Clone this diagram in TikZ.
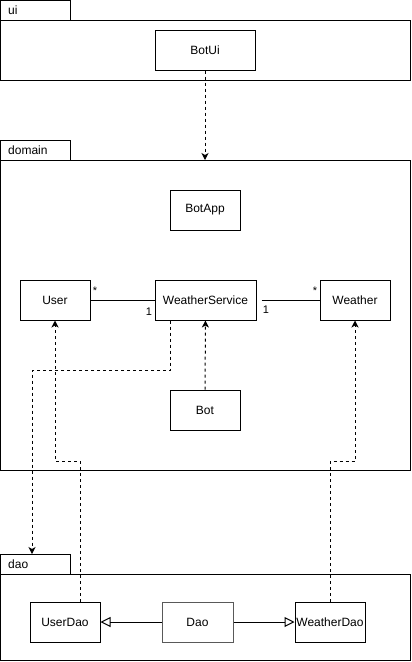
\documentclass[tikz,border=0pt]{standalone}
\usepackage{fontspec}
\setmainfont{Liberation Sans}
\usetikzlibrary{arrows.meta}
\tikzset{
  cls/.style={draw, line width=1pt, minimum width=70pt, minimum height=40pt, inner sep=0pt, font=\fontsize{12}{14}\selectfont},
  pkg/.style={draw, line width=1pt},
  dep/.style={dashed, dash pattern=on 3pt off 3pt, line width=1pt, -{Stealth[length=7pt,width=7pt,inset=2pt]}},
  inh/.style={line width=1pt, -{Triangle[open,length=10pt,width=10pt]}},
  mult/.style={font=\fontsize{11}{13}\selectfont, inner sep=0pt}
}
\begin{document}
\begin{tikzpicture}[x=1pt, y=-1pt]
  \useasboundingbox (0, 0) rectangle (412, 662);
  % packages
  \draw [pkg] (0.5, 0.5) rectangle (70, 20);
  \draw [pkg] (0.5, 20) rectangle (410, 80);
  \node [anchor=west, font=\fontsize{12}{14}\selectfont, inner sep=0pt] (uilabel) at (8, 10) {ui};
  \draw [pkg] (0.5, 140) rectangle (70, 160);
  \draw [pkg] (0.5, 160) rectangle (410, 470);
  \node [anchor=west, font=\fontsize{12}{14}\selectfont, inner sep=0pt] (domainlabel) at (8, 150) {domain};
  \draw [pkg] (0.5, 554) rectangle (70, 574);
  \draw [pkg] (0.5, 574) rectangle (410, 660);
  \node [anchor=west, font=\fontsize{12}{14}\selectfont, inner sep=0pt] (daolabel) at (8, 564) {dao};
  % classes
  \node [cls, minimum width=100pt] (botui) at (205, 50) {BotUi};
  \node [cls] (botapp) at (205, 210) {BotApp};
  \node [cls] (user) at (55, 300) {User};
  \node [cls, minimum width=101pt] (service) at (205.5, 300) {WeatherService};
  \node [cls] (weather) at (355, 300) {Weather};
  \node [cls] (bot) at (205, 410) {Bot};
  \node [cls] (userdao) at (65, 622) {UserDao};
  \node [cls, draw=black!65, minimum width=71pt] (dao) at (197.5, 622) {Dao};
  \node [cls] (weatherdao) at (330, 622) {WeatherDao};
  % associations
  \draw [line width=1pt] (user) -- (service);
  \node [mult] (ustar) at (95, 291) {*};
  \node [mult] (sone) at (149, 312) {1};
  \draw [line width=1pt, shorten <=5pt] (service) -- (weather);
  \node [mult] (wone) at (266, 310) {1};
  \node [mult] (wstar) at (315, 291) {*};
  % dependencies
  \coordinate (domaintop) at (205, 160);
  \coordinate (daotop) at (32, 554);
  \coordinate (userbend) at (55, 461);
  \coordinate (weatherbend) at (355, 461);
  \draw [dep] (botui) -- (domaintop);
  \draw [dep] (bot) -- (service);
  \draw [dep] ([xshift=-35.5pt]service.south) -- ++(0, 50) -| (daotop);
  \draw [dep] ([xshift=15pt]userdao.north) |- (userbend) -- (user);
  \draw [dep] (weatherdao) |- (weatherbend) -- (weather);
  % inheritance
  \draw [inh] (dao) -- (userdao);
  \draw [inh] (dao) -- (weatherdao);
\end{tikzpicture}
\end{document}
